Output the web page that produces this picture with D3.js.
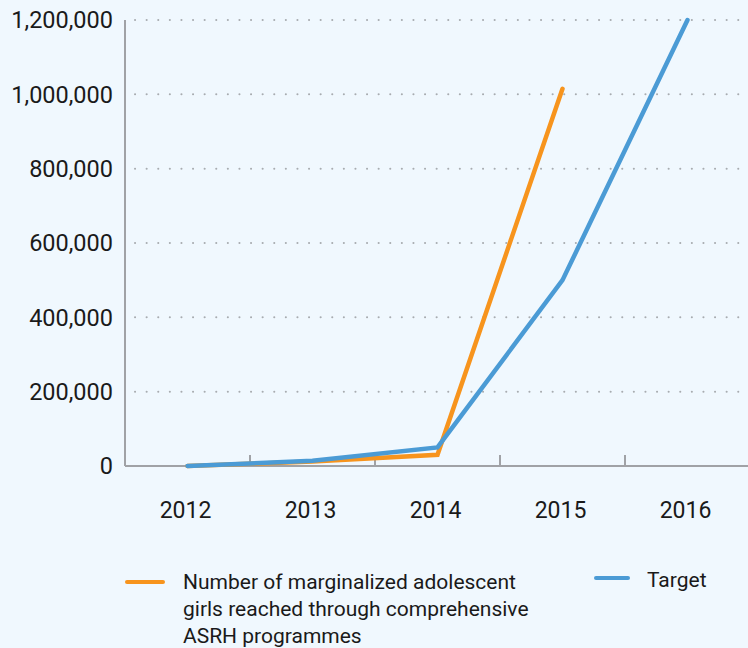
<!DOCTYPE html>
<html>
<head>
<meta charset="utf-8">
<script src="https://cdn.jsdelivr.net/npm/d3@7"></script>
<style>
  body { margin: 0; background: #f0f8fe; }
  text { font-family: Roboto, "Noto Sans", sans-serif; fill: #1a1a1a; }
</style>
</head>
<body>
<svg></svg>
<script>
const width = 748;
const height = 648;
const margin = ({ top: 20, right: -2, bottom: 182, left: 125 });

const years = ["2012", "2013", "2014", "2015", "2016"];
const reached = [0, 12000, 30000, 1015000];
const target = [0, 14000, 50000, 500000, 1200000];
const yTicks = [0, 200000, 400000, 600000, 800000, 1000000, 1200000];

const orange = "#f7941d";
const blue = "#4b9bd5";

const x = d3.scaleBand()
    .domain(years)
    .range([margin.left, width - margin.right]);

const y = d3.scaleLinear()
    .domain([0, 1200000])
    .range([height - margin.bottom, margin.top]);

const svg = d3.select("svg")
    .attr("width", width)
    .attr("height", height)
    .attr("viewBox", [0, 0, width, height]);

// dotted gridlines
svg.append("g")
    .selectAll("line")
    .data(yTicks.filter(d => d > 0))
    .join("line")
    .attr("x1", margin.left + 10)
    .attr("x2", width)
    .attr("y1", d => y(d))
    .attr("y2", d => y(d))
    .attr("stroke", "#a8acb0")
    .attr("stroke-width", 2)
    .attr("stroke-linecap", "round")
    .attr("stroke-dasharray", "0.1 11.5");

// y axis labels
svg.append("g")
    .selectAll("text")
    .data(yTicks)
    .join("text")
    .attr("x", 113)
    .attr("y", d => y(d))
    .attr("dy", "0.36em")
    .attr("text-anchor", "end")
    .style("font-size", "23.5px")
    .text(d => d3.format(",")(d));

// left axis line
svg.append("line")
    .attr("x1", margin.left).attr("x2", margin.left)
    .attr("y1", y(1200000)).attr("y2", y(0))
    .attr("stroke", "#a0a2a6")
    .attr("stroke-width", 2);

// x axis with inward ticks at band edges
const xAxis = g => g
    .attr("transform", `translate(0,${y(0)})`)
    .call(g => g.append("line")
        .attr("x1", margin.left).attr("x2", width)
        .attr("stroke", "#a0a2a6").attr("stroke-width", 2))
    .call(g => g.selectAll(".edge")
        .data(years.slice(1))
        .join("line")
        .attr("class", "edge")
        .attr("x1", d => x(d)).attr("x2", d => x(d))
        .attr("y1", 0).attr("y2", -11)
        .attr("stroke", "#a0a2a6").attr("stroke-width", 2))
    .call(g => g.selectAll("text")
        .data(years)
        .join("text")
        .attr("x", d => x(d) + x.bandwidth() / 2 - 2)
        .attr("y", 52)
        .attr("text-anchor", "middle")
        .style("font-size", "23px")
        .text(d => d));

svg.append("g").call(xAxis);

const line = d3.line()
    .x((d, i) => x(years[i]) + x.bandwidth() / 2)
    .y(d => y(d));

svg.append("path")
    .datum(reached)
    .attr("fill", "none")
    .attr("stroke", orange)
    .attr("stroke-width", 4.5)
    .attr("stroke-linecap", "round")
    .attr("d", line);

svg.append("path")
    .datum(target)
    .attr("fill", "none")
    .attr("stroke", blue)
    .attr("stroke-width", 4.5)
    .attr("stroke-linecap", "round")
    .attr("d", line);

// legend
const legend = svg.append("g");
legend.append("line")
    .attr("x1", 127).attr("x2", 163)
    .attr("y1", 582).attr("y2", 582)
    .attr("stroke", orange).attr("stroke-width", 4).attr("stroke-linecap", "round");
legend.append("text")
    .attr("x", 183).attr("y", 589)
    .style("font-size", "21px")
    .selectAll("tspan")
    .data(["Number of marginalized adolescent", "girls reached through comprehensive", "ASRH programmes"])
    .join("tspan")
    .attr("x", 183)
    .attr("dy", (d, i) => i === 0 ? 0 : 27)
    .text(d => d);

legend.append("line")
    .attr("x1", 596).attr("x2", 628)
    .attr("y1", 578).attr("y2", 578)
    .attr("stroke", blue).attr("stroke-width", 4).attr("stroke-linecap", "round");
legend.append("text")
    .attr("x", 647).attr("y", 587)
    .style("font-size", "21px")
    .text("Target");
</script>
</body>
</html>
